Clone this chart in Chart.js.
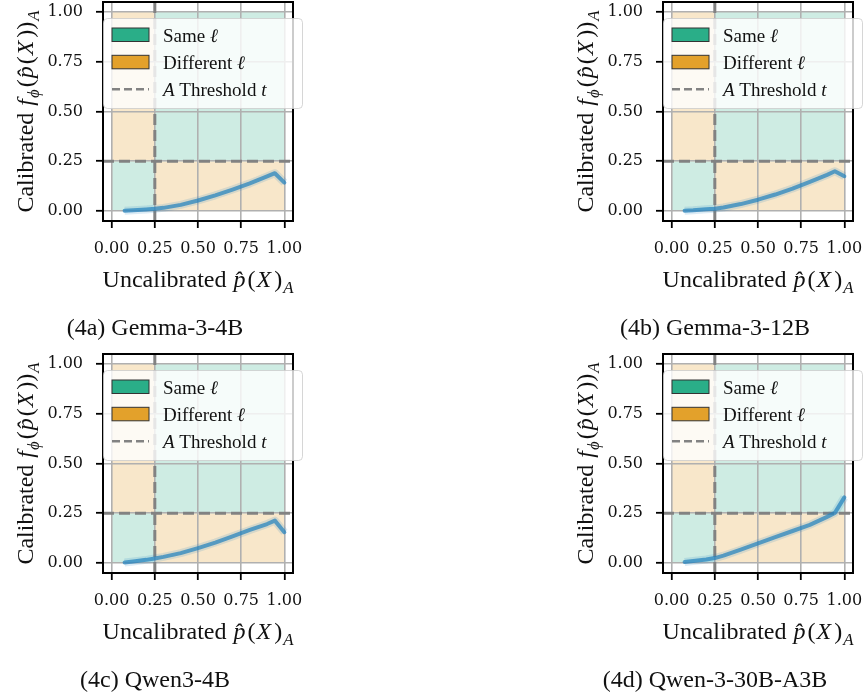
<!DOCTYPE html>
<html>
<head>
<meta charset="utf-8">
<script src="https://cdn.jsdelivr.net/npm/chart.js@4.4.1/dist/chart.umd.min.js"></script>
<style>
  html, body { margin: 0; padding: 0; background: #fff; overflow: hidden; }
  #fig { position: relative; width: 865px; height: 700px; }
  #fig canvas { position: absolute; }
</style>
</head>
<body>
<div id="fig">
  <canvas id="panel0" width="305" height="350" style="left:0px;top:0px"></canvas>
  <canvas id="panel1" width="305" height="350" style="left:560px;top:0px"></canvas>
  <canvas id="panel2" width="305" height="350" style="left:0px;top:352px"></canvas>
  <canvas id="panel3" width="305" height="350" style="left:560px;top:352px"></canvas>
</div>
<script>
// --- data ---
const thresholdT = 0.25;
const tickValues = [0, 0.25, 0.5, 0.75, 1.0];
const uncalibrated = [0.075, 0.125, 0.2, 0.25, 0.3, 0.4, 0.5, 0.6, 0.7, 0.8, 0.9, 0.945, 1.0];
const calGemma3_4B = [0.002, 0.004, 0.008, 0.011, 0.016, 0.031, 0.053, 0.079, 0.108, 0.139, 0.174, 0.190, 0.143];
const calGemma3_12B = [0.002, 0.004, 0.009, 0.012, 0.018, 0.035, 0.057, 0.083, 0.113, 0.147, 0.182, 0.200, 0.175];
const calQwen3_4B = [0.003, 0.008, 0.016, 0.023, 0.031, 0.050, 0.075, 0.103, 0.134, 0.166, 0.196, 0.213, 0.155];
const calQwen3_30B = [0.005, 0.010, 0.018, 0.025, 0.037, 0.067, 0.099, 0.130, 0.161, 0.192, 0.232, 0.252, 0.330];
const panelSeries = [calGemma3_4B, calGemma3_12B, calQwen3_4B, calQwen3_30B];
const panelCaptions = ['(4a) Gemma-3-4B', '(4b) Gemma-3-12B', '(4c) Qwen3-4B', '(4d) Qwen-3-30B-A3B'];

// regions as [x0, x1, y0, y1]
const sameRegions = [[0, thresholdT, 0, thresholdT], [thresholdT, 1, thresholdT, 1]];
const diffRegions = [[0, thresholdT, thresholdT, 1], [thresholdT, 1, 0, thresholdT]];

const SAME_COLOR = '#2aae88';
const DIFF_COLOR = '#e3a12b';
const SAME_FILL = 'rgba(42,174,136,0.23)';
const DIFF_FILL = 'rgba(227,161,43,0.25)';
const THRESH_COLOR = '#828282';
const CURVE_COLOR = 'rgba(36,130,190,0.72)';
const BAND_COLOR = 'rgba(36,130,190,0.16)';
const SERIF = '"Liberation Serif", "Times New Roman", serif';

// text pieces: plain / italic / subscript, with optional extra spacing after
function measureRich(ctx, segs, size) {
  return segs.map(s => {
    const fs = s.sub ? size * 0.7 : size;
    const font = (s.it ? 'italic ' : '') + fs + 'px ' + SERIF;
    ctx.font = font;
    return { t: s.t, font, w: ctx.measureText(s.t).width + (s.pad || 0), dy: s.sub ? size * 0.24 : 0 };
  });
}

function drawRich(ctx, segs, x, y, size, align) {
  const parts = measureRich(ctx, segs, size);
  const total = parts.reduce((a, p) => a + p.w, 0);
  let cx = align === 'left' ? x : x - total / 2;
  ctx.textAlign = 'left';
  ctx.textBaseline = 'alphabetic';
  parts.forEach(p => {
    ctx.font = p.font;
    ctx.fillText(p.t, cx, y + p.dy);
    cx += p.w;
  });
}

const xTitleSegs = [
  { t: 'Uncalibrated ', pad: 1 }, { t: 'p\u0302', it: true, pad: 2 }, { t: '(', pad: 1 }, { t: 'X', it: true, pad: 3 },
  { t: ')', pad: 1 }, { t: 'A', it: true, sub: true }
];
const yTitleSegs = [
  { t: 'Calibrated ', pad: 1 }, { t: 'f', it: true, pad: 1 }, { t: '\u03D5', it: true, sub: true, pad: 2 }, { t: '(', pad: 1 },
  { t: 'p\u0302', it: true, pad: 2 }, { t: '(', pad: 1 }, { t: 'X', it: true, pad: 3 }, { t: '))', pad: 1 },
  { t: 'A', it: true, sub: true }
];
const legendSegs = [
  [{ t: 'Same ' }, { t: '\u2113', it: true }],
  [{ t: 'Different ' }, { t: '\u2113', it: true }],
  [{ t: 'A', it: true }, { t: ' Threshold ' }, { t: 't', it: true }]
];

const decorPlugin = {
  id: 'decor',
  beforeDraw(chart) {
    const { ctx, scales: { x, y } } = chart;
    const fillRegion = (r, color) => {
      const px0 = x.getPixelForValue(r[0]), px1 = x.getPixelForValue(r[1]);
      const py0 = y.getPixelForValue(r[2]), py1 = y.getPixelForValue(r[3]);
      ctx.fillStyle = color;
      ctx.fillRect(px0, py1, px1 - px0, py0 - py1);
    };
    ctx.save();
    sameRegions.forEach(r => fillRegion(r, SAME_FILL));
    diffRegions.forEach(r => fillRegion(r, DIFF_FILL));
    ctx.restore();
  },
  afterDraw(chart, args, opts) {
    const { ctx, chartArea: a } = chart;
    ctx.save();
    // frame
    ctx.strokeStyle = '#000';
    ctx.lineWidth = 2;
    ctx.strokeRect(a.left, a.top, a.right - a.left, a.bottom - a.top);

    // legend
    const lx = a.left + 0.5, ly = 18.5, lw = 199, lh = 90;
    ctx.beginPath();
    ctx.roundRect(lx, ly, lw, lh, 4);
    ctx.fillStyle = 'rgba(255,255,255,0.8)';
    ctx.fill();
    ctx.strokeStyle = 'rgba(204,204,204,0.8)';
    ctx.lineWidth = 1;
    ctx.stroke();

    const swX = a.left + 9, swW = 37, swH = 13.5;
    const rowBase = [41.5, 68.8, 96];
    [SAME_COLOR, DIFF_COLOR].forEach((c, i) => {
      ctx.fillStyle = c;
      ctx.fillRect(swX, rowBase[i] - swH, swW, swH);
      ctx.strokeStyle = '#333';
      ctx.lineWidth = 1;
      ctx.strokeRect(swX, rowBase[i] - swH, swW, swH);
    });
    ctx.beginPath();
    ctx.setLineDash([8, 4]);
    ctx.strokeStyle = THRESH_COLOR;
    ctx.lineWidth = 2.5;
    ctx.moveTo(swX, 89.3);
    ctx.lineTo(swX + swW, 89.3);
    ctx.stroke();
    ctx.setLineDash([]);

    ctx.fillStyle = '#111';
    legendSegs.forEach((segs, i) => drawRich(ctx, segs, a.left + 60, rowBase[i], 19, 'left'));

    // axis titles
    drawRich(ctx, xTitleSegs, (a.left + a.right) / 2, 287, 24);
    ctx.save();
    ctx.translate(33, (a.top + a.bottom) / 2);
    ctx.rotate(-Math.PI / 2);
    drawRich(ctx, yTitleSegs, 0, 0, 24);
    ctx.restore();

    // caption
    ctx.font = '24px ' + SERIF;
    ctx.textAlign = 'center';
    ctx.textBaseline = 'alphabetic';
    ctx.fillText(opts.caption, 155, 335);
    ctx.restore();
  }
};

function makePanel(idx) {
  const series = panelSeries[idx];
  const curve = uncalibrated.map((u, i) => ({ x: u, y: series[i] }));
  const tickFont = { family: '"DejaVu Serif", serif', size: 16 };
  const axis = (isX) => ({
    type: 'linear',
    min: -0.05,
    max: 1.05,
    afterBuildTicks: s => { s.ticks = tickValues.map(v => ({ value: v })); },
    afterFit: s => {
      if (isX) { s.height = 350 - 221; s.paddingLeft = 0; s.paddingRight = 0; }
      else { s.width = 103; s.paddingTop = 0; s.paddingBottom = 0; }
    },
    ticks: {
      autoSkip: false,
      maxRotation: 0,
      color: '#111',
      font: tickFont,
      padding: isX ? 11 : 13,
      callback: v => Number(v).toFixed(2)
    },
    grid: {
      color: '#b0b0b0',
      lineWidth: 1.6,
      drawTicks: true,
      tickLength: 7,
      tickColor: '#000',
      tickWidth: 1.8
    },
    border: { display: false }
  });

  return new Chart(document.getElementById('panel' + idx), {
    type: 'scatter',
    data: {
      datasets: [
        {
          label: 'calibration',
          data: curve,
          showLine: true,
          borderColor: CURVE_COLOR,
          borderWidth: 4,
          borderJoinStyle: 'round',
          borderCapStyle: 'round',
          pointRadius: 0,
          order: 0
        },
        {
          label: 'calibration band',
          data: curve,
          showLine: true,
          borderColor: BAND_COLOR,
          borderWidth: 8,
          borderJoinStyle: 'round',
          pointRadius: 0,
          order: 1
        },
        {
          label: 'threshold-h',
          data: [{ x: -0.05, y: thresholdT }, { x: 1.05, y: thresholdT }],
          showLine: true,
          borderColor: THRESH_COLOR,
          borderWidth: 3,
          borderDash: [11, 5],
          pointRadius: 0,
          order: 2
        },
        {
          label: 'threshold-v',
          data: [{ x: thresholdT, y: -0.05 }, { x: thresholdT, y: 1.05 }],
          showLine: true,
          borderColor: THRESH_COLOR,
          borderWidth: 3,
          borderDash: [11, 5],
          pointRadius: 0,
          order: 2
        }
      ]
    },
    options: {
      responsive: false,
      animation: false,
      devicePixelRatio: 1,
      layout: { padding: { left: 0, top: 2, right: 12, bottom: 0 } },
      scales: { x: axis(true), y: axis(false) },
      plugins: {
        legend: { display: false },
        tooltip: { enabled: false },
        decor: { caption: panelCaptions[idx] }
      }
    },
    plugins: [decorPlugin]
  });
}

[0, 1, 2, 3].forEach(makePanel);
</script>
</body>
</html>
